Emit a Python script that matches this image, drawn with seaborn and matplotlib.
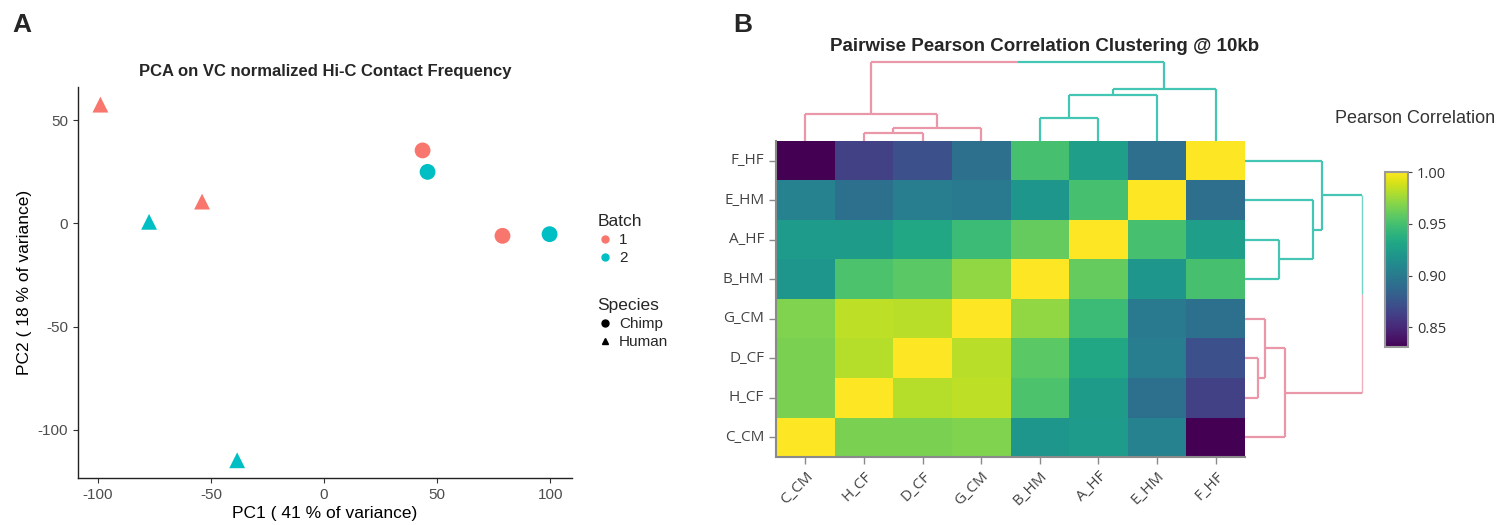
import numpy as np
import pandas as pd
import matplotlib
matplotlib.use("Agg")
import matplotlib.pyplot as plt
from matplotlib.lines import Line2D
import seaborn as sns

# ---- PCA scores (panel A) ----
pc1 = [-98.8, -53.9, -77.3, -38.4, 43.5, 78.8, 45.7, 99.6]
pc2 = [57.6, 10.6, 0.8, -114.8, 35.4, -6.0, 25.0, -5.2]
batch = ["1", "1", "2", "2", "1", "1", "2", "2"]
species = ["Human", "Human", "Human", "Human", "Chimp", "Chimp", "Chimp", "Chimp"]
batch_colors = {"1": "#F8766D", "2": "#00BFC4"}
species_markers = {"Chimp": "o", "Human": "^"}

# ---- Pairwise Pearson correlations at 10kb (panel B) ----
samples = ["C_CM", "H_CF", "D_CF", "G_CM", "B_HM", "A_HF", "E_HM", "F_HF"]
corr_C_CM = [1.000, 0.966, 0.966, 0.967, 0.920, 0.923, 0.906, 0.831]
corr_H_CF = [0.966, 1.000, 0.981, 0.983, 0.952, 0.924, 0.893, 0.864]
corr_D_CF = [0.966, 0.981, 1.000, 0.982, 0.957, 0.932, 0.902, 0.872]
corr_G_CM = [0.967, 0.983, 0.982, 1.000, 0.972, 0.946, 0.900, 0.893]
corr_B_HM = [0.920, 0.952, 0.957, 0.972, 1.000, 0.960, 0.920, 0.950]
corr_A_HF = [0.923, 0.924, 0.932, 0.946, 0.960, 1.000, 0.950, 0.925]
corr_E_HM = [0.906, 0.893, 0.902, 0.900, 0.920, 0.950, 1.000, 0.892]
corr_F_HF = [0.831, 0.864, 0.872, 0.893, 0.950, 0.925, 0.892, 1.000]
corr = np.array([corr_C_CM, corr_H_CF, corr_D_CF, corr_G_CM,
                 corr_B_HM, corr_A_HF, corr_E_HM, corr_F_HF])

PINK = "#EA97AA"
TEAL = "#45C6B4"

sns.set_theme(style="ticks")
plt.rcParams["font.family"] = ["Liberation Sans", "DejaVu Sans"]
plt.rcParams["axes.unicode_minus"] = False

fig = plt.figure(figsize=(14.97, 5.25), dpi=100)

# ================= Panel A: PCA scatter =================
ax = fig.add_axes([0.0521, 0.0895, 0.330, 0.745])
pca = pd.DataFrame({"PC1": pc1, "PC2": pc2, "Batch": batch, "Species": species})
sns.scatterplot(data=pca, x="PC1", y="PC2", hue="Batch", style="Species",
                palette=batch_colors, markers=species_markers,
                hue_order=["1", "2"], style_order=["Chimp", "Human"],
                s=130, linewidth=0, legend=False, ax=ax)
ax.set_xlim(-108.7, 109.5)
ax.set_ylim(-123.4, 66.2)
ax.set_xticks([-100, -50, 0, 50, 100])
ax.set_yticks([-100, -50, 0, 50])
for side in ("top", "right"):
    ax.spines[side].set_visible(False)
for side in ("left", "bottom"):
    ax.spines[side].set_color("#222222")
    ax.spines[side].set_linewidth(1.0)
ax.tick_params(axis="both", colors="#333333", labelcolor="#4D4D4D",
               labelsize=11, length=3.5, width=0.8)
ax.set_xlabel("PC1 ( 41 % of variance)", fontsize=12.5, color="black", labelpad=3)
ax.set_ylabel("PC2 ( 18 % of variance)", fontsize=12.5, color="black", labelpad=4)
fig.text(0.2171, 0.863, "PCA on VC normalized Hi-C Contact Frequency",
         ha="center", va="center", fontsize=12, weight="bold")

batch_handles = [Line2D([], [], marker="o", linestyle="", color=batch_colors[b],
                        markersize=5, label=b) for b in ["1", "2"]]
species_handles = [Line2D([], [], marker=species_markers[sp], linestyle="",
                          color="black", markersize=5, label=sp)
                   for sp in ["Chimp", "Human"]]
leg1 = fig.legend(handles=batch_handles, title="Batch", loc="upper left",
                  bbox_to_anchor=(0.392, 0.612), frameon=False, fontsize=11,
                  title_fontsize=12.5, handlelength=1.0, handletextpad=0.4,
                  labelspacing=0.25, alignment="left", borderpad=0.2)
leg2 = fig.legend(handles=species_handles, title="Species", loc="upper left",
                  bbox_to_anchor=(0.392, 0.452), frameon=False, fontsize=11,
                  title_fontsize=12.5, handlelength=1.0, handletextpad=0.4,
                  labelspacing=0.25, alignment="left", borderpad=0.2)

fig.text(0.0145, 0.953, "A", ha="center", va="center", fontsize=19, weight="bold")
fig.text(0.4960, 0.953, "B", ha="center", va="center", fontsize=19, weight="bold")

# ================= Panel B: clustered correlation heatmap =================
def complete_linkage(X):
    """Agglomerative clustering (complete linkage, Euclidean distance)."""
    n = len(X)
    D = np.sqrt(((X[:, None, :] - X[None, :, :]) ** 2).sum(-1))
    clusters = {i: [i] for i in range(n)}
    merges = []
    nxt = n
    while len(clusters) > 1:
        keys = list(clusters)
        best = None
        for i in range(len(keys)):
            for j in range(i + 1, len(keys)):
                a, b = keys[i], keys[j]
                d = max(D[p, q] for p in clusters[a] for q in clusters[b])
                if best is None or d < best[0]:
                    best = (d, a, b)
        d, a, b = best
        merges.append((a, b, d))
        clusters[nxt] = clusters.pop(a) + clusters.pop(b)
        nxt += 1
    return merges


def draw_dendrogram(axd, merges, leaf_pos, orient, lw=1.6, root_lw=1.6, root_alpha=1.0):
    n = len(leaf_pos)
    pos = {i: leaf_pos[i] for i in range(n)}
    hgt = {i: 0.0 for i in range(n)}
    members = {i: {i} for i in range(n)}
    for k, (a, b, d) in enumerate(merges):
        node = n + k
        members[node] = members[a] | members[b]
        pos[node] = (pos[a] + pos[b]) / 2.0
        hgt[node] = d
    ra, rb, _ = merges[-1]
    pink_set = members[ra] if 0 in members[ra] else members[rb]

    def seg(p0, h0, p1, h1, color, width, alpha=1.0):
        if orient == "top":
            axd.plot([p0, p1], [h0, h1], color=color, lw=width, alpha=alpha,
                     solid_capstyle="butt", clip_on=False)
        else:
            axd.plot([h0, h1], [p0, p1], color=color, lw=width, alpha=alpha,
                     solid_capstyle="butt", clip_on=False)

    for k, (a, b, d) in enumerate(merges):
        node = n + k
        if k == len(merges) - 1:
            mid = (pos[a] + pos[b]) / 2.0
            for child in (a, b):
                col = PINK if members[child] <= pink_set else TEAL
                seg(pos[child], hgt[child], pos[child], d, col, lw)
                seg(pos[child], d, mid, d, col, root_lw, root_alpha)
            continue
        col = PINK if members[node] <= pink_set else TEAL
        seg(pos[a], hgt[a], pos[a], d, col, lw)
        seg(pos[a], d, pos[b], d, col, lw)
        seg(pos[b], d, pos[b], hgt[b], col, lw)


merges = complete_linkage(corr)
root_h = merges[-1][2]

row_order = samples[::-1]
df = pd.DataFrame(corr, index=samples, columns=samples).loc[row_order, samples]

hax = fig.add_axes([0.5184, 0.1295, 0.3133, 0.6020])
cax = fig.add_axes([0.9252, 0.3390, 0.0154, 0.3333])
sns.heatmap(df, cmap="viridis", vmin=corr.min(), vmax=1.0, ax=hax, cbar_ax=cax,
            cbar_kws={"ticks": [0.85, 0.90, 0.95, 1.00], "format": "%.2f"})
hax.set_xlabel("")
hax.set_ylabel("")
for side in ("left", "bottom"):
    hax.spines[side].set_visible(True)
    hax.spines[side].set_color("#8a8a8a")
    hax.spines[side].set_linewidth(1.5)
hax.tick_params(axis="both", colors="#8a8a8a", labelcolor="#444444",
                length=5, width=1.0, labelsize=11)
plt.setp(hax.get_yticklabels(), rotation=0, family="Open Sans")
plt.setp(hax.get_xticklabels(), rotation=45, ha="right",
         rotation_mode="anchor", family="Open Sans")

cbar = hax.collections[0].colorbar
cbar.outline.set_edgecolor("#9a9a9a")
cbar.outline.set_linewidth(1.5)
cax.tick_params(colors="#444444", labelcolor="#333333", length=3, width=0.8,
                labelsize=10.5)
plt.setp(cax.get_yticklabels(), family="Open Sans")

# column dendrogram (top)
tax = fig.add_axes([0.5184, 0.7314, 0.3133, 0.1505])
draw_dendrogram(tax, merges, [samples.index(s) + 0.5 for s in samples], "top")
tax.set_xlim(0, len(samples))
tax.set_ylim(0, root_h)
tax.axis("off")

# row dendrogram (right)
rax = fig.add_axes([0.8317, 0.1295, 0.0782, 0.6020])
draw_dendrogram(rax, merges, [row_order.index(s) + 0.5 for s in samples], "right",
                root_lw=1.0, root_alpha=0.75)
rax.set_ylim(len(samples), 0)
rax.set_xlim(0, root_h)
rax.axis("off")

fig.text(0.698, 0.9105, "Pairwise Pearson Correlation Clustering @ 10kb",
         ha="center", va="center", fontsize=13.5, weight="bold")
fig.text(0.8918, 0.775, "Pearson Correlation", ha="left", va="center",
         fontsize=13, color="#333333")

fig.savefig("out.png", dpi=100)
